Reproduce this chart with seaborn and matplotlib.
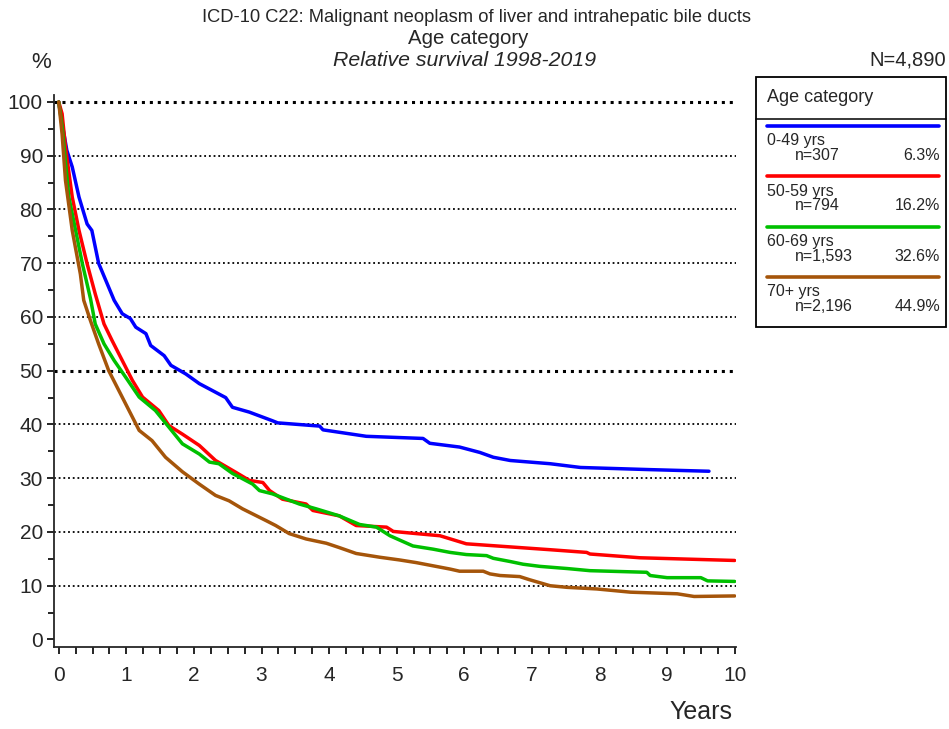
import matplotlib
matplotlib.use("Agg")
import matplotlib.pyplot as plt
from matplotlib.lines import Line2D
from matplotlib.patches import Rectangle
from matplotlib.ticker import MultipleLocator
import pandas as pd
import seaborn as sns

# values (years since diagnosis, relative survival %)
groups = ["0-49 yrs", "50-59 yrs", "60-69 yrs", "70+ yrs"]
counts = ["n=307", "n=794", "n=1,593", "n=2,196"]
shares = ["6.3%", "16.2%", "32.6%", "44.9%"]
colors = ["#0000FF", "#FF0000", "#00C000", "#A5550A"]

years_0_49 = [0, 0.05, 0.12, 0.2, 0.3, 0.42, 0.49, 0.59, 0.74, 0.82, 0.94, 1.06, 1.14, 1.29,
              1.36, 1.56, 1.66, 1.88, 2.08, 2.32, 2.47, 2.57, 2.82, 3.16, 3.24, 3.86, 3.91,
              4.55, 5.39, 5.49, 5.93, 6.23, 6.43, 6.68, 7.27, 7.72, 8.75, 9.62]
surv_0_49 = [100, 96, 91, 87.9, 82.3, 77.3, 76.1, 70, 65.5, 63.1, 60.6, 59.7, 58.1, 56.9,
             54.7, 52.8, 51.0, 49.4, 47.6, 46.0, 45.0, 43.2, 42.3, 40.7, 40.3, 39.7, 39.0,
             37.8, 37.4, 36.5, 35.8, 34.8, 33.9, 33.3, 32.7, 32.0, 31.6, 31.3]

years_50_59 = [0, 0.05, 0.1, 0.2, 0.3, 0.42, 0.54, 0.67, 0.79, 0.94, 1.09, 1.24, 1.48, 1.63,
               1.83, 2.08, 2.32, 2.62, 2.82, 3.02, 3.12, 3.31, 3.66, 3.76, 4.15, 4.4, 4.85,
               4.95, 5.29, 5.64, 6.03, 6.48, 7.27, 7.81, 7.86, 8.6, 10.0]
surv_50_59 = [100, 97.8, 91.6, 82.3, 76.1, 69.9, 64.3, 58.7, 55.6, 51.9, 48.2, 45.1, 42.6, 39.8,
              38.2, 36.1, 33.3, 31.1, 29.6, 29.2, 27.7, 26.1, 25.2, 24.0, 23.0, 21.2, 20.9,
              20.1, 19.7, 19.3, 17.8, 17.4, 16.7, 16.2, 15.9, 15.2, 14.7]

years_60_69 = [0, 0.05, 0.15, 0.25, 0.35, 0.47, 0.54, 0.67, 0.82, 0.99, 1.19, 1.43, 1.63, 1.83,
               2.08, 2.23, 2.37, 2.57, 2.87, 2.97, 3.16, 3.56, 3.81, 4.15, 4.45, 4.7, 4.9,
               5.24, 5.54, 5.79, 6.03, 6.33, 6.43, 6.68, 6.87, 7.12, 7.52, 7.86, 8.7, 8.75,
               9.0, 9.5, 9.6, 10.0]
surv_60_69 = [100, 95.5, 82.3, 76.1, 69.9, 63.4, 58.7, 55.0, 51.9, 48.8, 45.1, 42.6, 39.5, 36.4,
              34.5, 33.0, 32.7, 30.9, 28.9, 27.7, 27.1, 25.2, 24.3, 23.0, 21.4, 20.9, 19.3,
              17.4, 16.8, 16.2, 15.8, 15.6, 15.1, 14.5, 14.0, 13.6, 13.2, 12.8, 12.5, 11.9,
              11.5, 11.5, 10.9, 10.8]

years_70 = [0, 0.05, 0.1, 0.2, 0.32, 0.37, 0.47, 0.59, 0.74, 0.89, 1.04, 1.19, 1.38, 1.58,
            1.83, 2.08, 2.32, 2.52, 2.72, 3.07, 3.21, 3.41, 3.66, 3.96, 4.15, 4.4, 4.75, 5.04,
            5.29, 5.79, 5.93, 6.28, 6.38, 6.53, 6.82, 6.97, 7.27, 7.52, 7.96, 8.46, 9.15, 9.4,
            10.0]
surv_70 = [100, 94, 85.4, 76.1, 68.0, 63.1, 59.3, 55.0, 50.0, 46.3, 42.6, 38.9, 37.0, 33.9,
           31.2, 28.9, 26.8, 25.8, 24.3, 22.1, 21.2, 19.7, 18.7, 17.9, 17.1, 16.0, 15.3, 14.8,
           14.3, 13.1, 12.7, 12.7, 12.2, 11.9, 11.7, 11.1, 10.0, 9.7, 9.4, 8.8, 8.5, 8.0,
           8.1]

y_ticks = list(range(0, 101, 10))
x_ticks = list(range(0, 11))

W, H = 949, 729


def fig_xy(x, y):
    return x / W, 1 - y / H


sns.set_style("ticks")
plt.rcParams["font.family"] = ["Liberation Sans", "DejaVu Sans"]

frames = []
for name, t, s in zip(groups, [years_0_49, years_50_59, years_60_69, years_70],
                      [surv_0_49, surv_50_59, surv_60_69, surv_70]):
    frames.append(pd.DataFrame({"years": t, "survival": s, "group": name}))
data = pd.concat(frames, ignore_index=True)

fig = plt.figure(figsize=(W / 100, H / 100), dpi=100)
ax = fig.add_axes([54 / W, 1 - 647 / H, (736 - 54) / W, (647 - 95) / H])

sns.lineplot(data=data, x="years", y="survival", hue="group", hue_order=groups,
             palette=colors, estimator=None, sort=False, linewidth=2.5, legend=False,
             ax=ax, zorder=3)

ax.set_xlim(-0.07, 10.02)
ax.set_ylim(-1.4, 101.3)
ax.set_xticks(x_ticks)
ax.set_yticks(y_ticks)
ax.xaxis.set_minor_locator(MultipleLocator(0.25))
ax.yaxis.set_minor_locator(MultipleLocator(5))
ax.tick_params(axis="both", which="major", labelsize=15, length=5, width=1.2, color="black")
ax.tick_params(axis="both", which="minor", length=4, width=1.2, color="black")
ax.tick_params(axis="x", which="both", length=5)
ax.tick_params(axis="x", pad=9)
ax.tick_params(axis="y", pad=3)
ax.set_xlabel("")
ax.set_ylabel("")
sns.despine(ax=ax)
for side in ("left", "bottom"):
    ax.spines[side].set_linewidth(1.3)

ax.yaxis.grid(True, color="black", linestyle=(0, (1, 1.6)), linewidth=1.3)
for value, line in zip(ax.get_yticks(), ax.get_ygridlines()):
    if value == 0:
        line.set_visible(False)
    elif value in (50, 100):
        line.set_linewidth(2.2)

# titles
fig.text(0.502, fig_xy(0, 18)[1], "ICD-10 C22: Malignant neoplasm of liver and intrahepatic bile ducts",
         ha="center", va="center", fontsize=13.2)
fig.text(0.493, fig_xy(0, 38)[1], "Age category", ha="center", va="center", fontsize=14.7)
fig.text(0.490, fig_xy(0, 60)[1], "Relative survival 1998-2019", ha="center", va="center",
         fontsize=15.3, style="italic")
fig.text(*fig_xy(41, 62), "%", ha="center", va="center", fontsize=16)
fig.text(*fig_xy(946, 60), "N=4,890", ha="right", va="center", fontsize=14.5)
fig.text(*fig_xy(732, 712), "Years", ha="right", va="center", fontsize=18)

# legend box
x0, y0 = fig_xy(756, 327)
x1, y1 = fig_xy(946, 77)
fig.patches.append(Rectangle((x0, y0), x1 - x0, y1 - y0, transform=fig.transFigure,
                             fill=False, edgecolor="black", linewidth=1.3))
sep_y = fig_xy(0, 119)[1]
fig.lines.append(Line2D([x0, x1], [sep_y, sep_y], transform=fig.transFigure,
                        color="black", linewidth=1.1))
fig.text(*fig_xy(767, 97), "Age category", ha="left", va="center", fontsize=13)
for i, (name, n_text, pct, col) in enumerate(zip(groups, counts, shares, colors)):
    top = 126 + 50.3 * i
    lx0, ly = fig_xy(767, top)
    lx1, _ = fig_xy(939, top)
    fig.lines.append(Line2D([lx0, lx1], [ly, ly], transform=fig.transFigure,
                            color=col, linewidth=2.6))
    fig.text(*fig_xy(767, top + 15), name, ha="left", va="center", fontsize=11.5)
    fig.text(*fig_xy(795, top + 29.5), n_text, ha="left", va="center", fontsize=11.5)
    fig.text(*fig_xy(940, top + 29.5), pct, ha="right", va="center", fontsize=11.5)

fig.savefig("out.png", dpi=100)
